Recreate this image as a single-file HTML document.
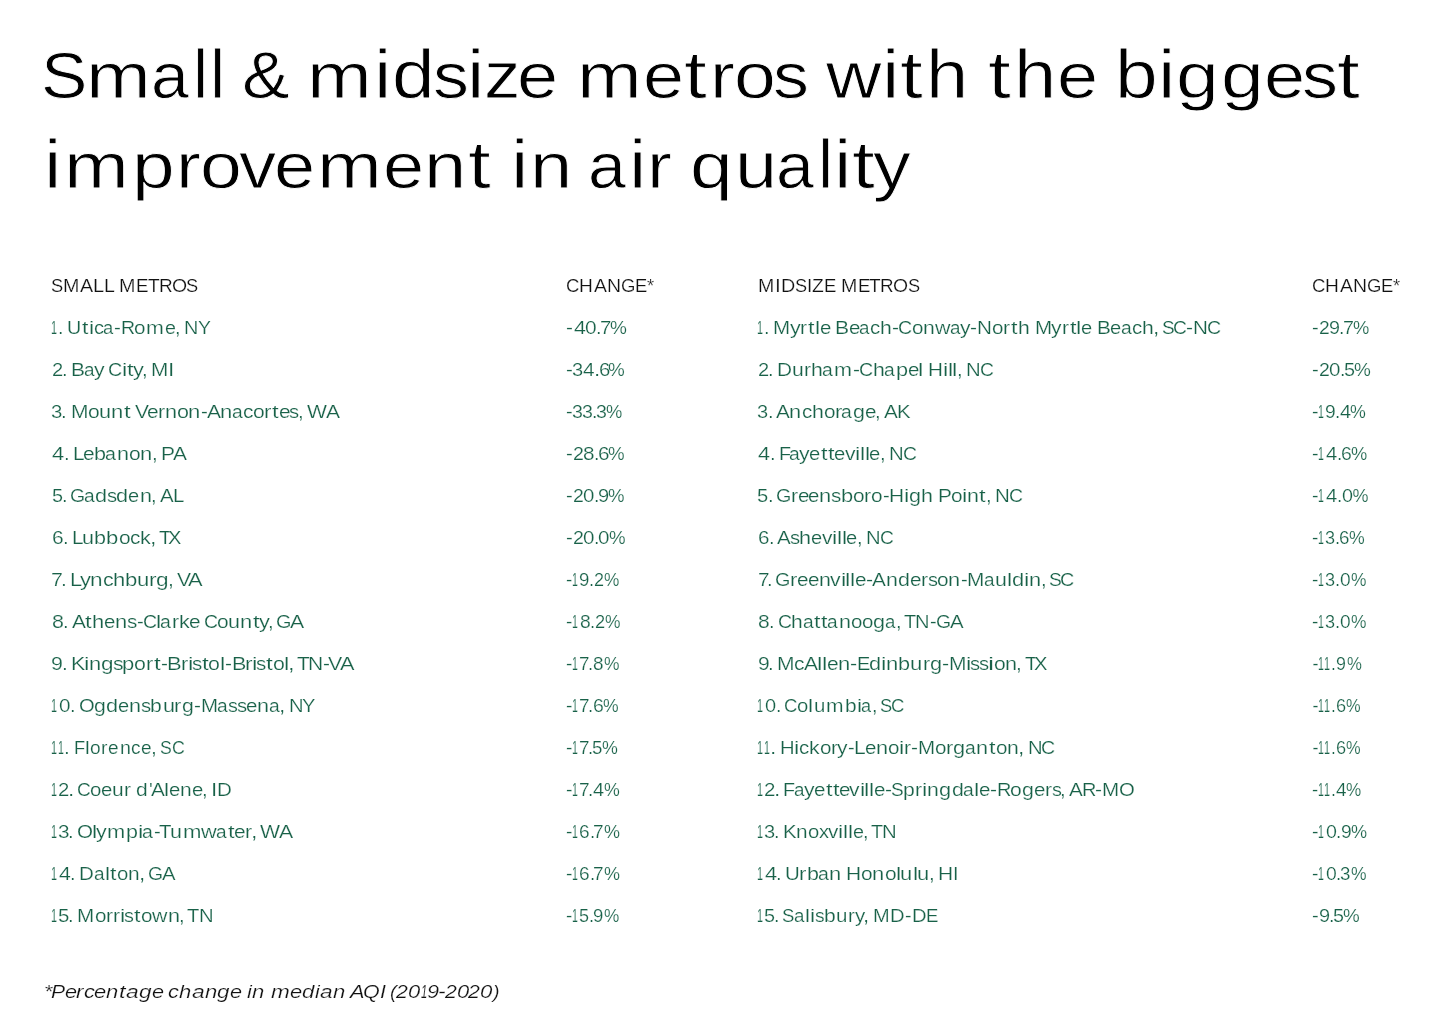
<!DOCTYPE html><html><head><meta charset="utf-8"><style>
html,body{margin:0;padding:0;background:#fff;width:1450px;height:1012px;overflow:hidden;position:relative}
body{font-family:"Liberation Sans", sans-serif;}
.a{position:absolute;left:0;white-space:pre;line-height:1;will-change:transform}
.a span{position:absolute;top:0;transform-origin:0 0}
.title{font-size:65px;color:#000;-webkit-text-stroke:0.8px #fff;}
.h{font-size:18px;color:#111;-webkit-text-stroke:0.2px #fff;}
.d{font-size:18px;color:#186148;-webkit-text-stroke:0.2px #fff;}
.f{font-size:19px;color:#111;-webkit-text-stroke:0.2px #fff;}
.f{font-style:italic}
</style></head><body>
<div class="a title" style="top:43px"><span style="left:40.63px;transform:scaleX(1.070)">S</span><span style="left:86.21px;transform:scaleX(1.196)">m</span><span style="left:150.82px;transform:scaleX(1.045)">a</span><span style="left:192.63px;transform-origin:0 55px;transform:scale(1.054,1.043)">l</span><span style="left:210.11px;transform-origin:0 55px;transform:scale(1.057,1.043)">l</span><span style="left:242.12px;transform-origin:0 55px;transform:scale(1.099,1.022)">&amp;</span><span style="left:306.96px;transform:scaleX(1.196)">m</span><span style="left:373.84px;transform-origin:0 55px;transform:scale(1.200,1.043)">i</span><span style="left:391.62px;transform-origin:0 55px;transform:scale(1.179,1.043)">d</span><span style="left:433.46px;transform:scaleX(1.105)">s</span><span style="left:467.33px;transform-origin:0 55px;transform:scale(1.200,1.043)">i</span><span style="left:483.90px;transform-origin:0 55px;transform:scale(1.124,1.029)">z</span><span style="left:517.12px;transform:scaleX(1.139)">e</span><span style="left:576.70px;transform:scaleX(1.196)">m</span><span style="left:642.63px;transform:scaleX(1.138)">e</span><span style="left:683.98px;transform-origin:0 55px;transform:scale(1.261,1.024)">t</span><span style="left:710.19px;transform:scaleX(1.148)">r</span><span style="left:734.30px;transform:scaleX(1.156)">o</span><span style="left:773.46px;transform:scaleX(1.105)">s</span><span style="left:825.53px;transform-origin:0 55px;transform:scale(1.182,1.029)">w</span><span style="left:881.84px;transform-origin:0 55px;transform:scale(1.200,1.043)">i</span><span style="left:899.98px;transform-origin:0 55px;transform:scale(1.261,1.024)">t</span><span style="left:926.43px;transform-origin:0 55px;transform:scale(1.168,1.043)">h</span><span style="left:987.74px;transform-origin:0 55px;transform:scale(1.263,1.024)">t</span><span style="left:1014.19px;transform-origin:0 55px;transform:scale(1.168,1.043)">h</span><span style="left:1056.63px;transform:scaleX(1.138)">e</span><span style="left:1115.40px;transform-origin:0 55px;transform:scale(1.181,1.043)">b</span><span style="left:1158.08px;transform-origin:0 55px;transform:scale(1.201,1.043)">i</span><span style="left:1176.00px;transform:scaleX(1.184)">g</span><span style="left:1220.76px;transform:scaleX(1.184)">g</span><span style="left:1264.12px;transform:scaleX(1.139)">e</span><span style="left:1302.22px;transform:scaleX(1.105)">s</span><span style="left:1337.22px;transform-origin:0 55px;transform:scale(1.260,1.024)">t</span></div>
<div class="a title" style="top:133px"><span style="left:43.83px;transform-origin:0 55px;transform:scale(1.202,1.043)">i</span><span style="left:63.93px;transform:scaleX(1.197)">m</span><span style="left:132.12px;transform:scaleX(1.181)">p</span><span style="left:175.92px;transform:scaleX(1.148)">r</span><span style="left:200.04px;transform:scaleX(1.157)">o</span><span style="left:239.26px;transform-origin:0 55px;transform:scale(1.144,1.029)">v</span><span style="left:274.10px;transform:scaleX(1.140)">e</span><span style="left:316.67px;transform:scaleX(1.197)">m</span><span style="left:382.86px;transform:scaleX(1.140)">e</span><span style="left:424.18px;transform:scaleX(1.169)">n</span><span style="left:468.20px;transform-origin:0 55px;transform:scale(1.261,1.024)">t</span><span style="left:510.83px;transform-origin:0 55px;transform:scale(1.202,1.043)">i</span><span style="left:529.69px;transform:scaleX(1.169)">n</span><span style="left:587.80px;transform:scaleX(1.046)">a</span><span style="left:628.59px;transform-origin:0 55px;transform:scale(1.200,1.043)">i</span><span style="left:647.18px;transform:scaleX(1.149)">r</span><span style="left:690.08px;transform:scaleX(1.180)">q</span><span style="left:734.98px;transform-origin:0 55px;transform:scale(1.166,1.029)">u</span><span style="left:775.55px;transform:scaleX(1.046)">a</span><span style="left:817.62px;transform-origin:0 55px;transform:scale(1.055,1.043)">l</span><span style="left:834.08px;transform-origin:0 55px;transform:scale(1.202,1.043)">i</span><span style="left:852.45px;transform-origin:0 55px;transform:scale(1.261,1.024)">t</span><span style="left:873.34px;transform-origin:0 55px;transform:scale(1.162,1.029)">y</span></div>
<div class="a h" style="top:277px"><span style="left:51.47px;transform:scaleX(1.017)">S</span><span style="left:63.39px;transform:scaleX(1.093)">M</span><span style="left:80.28px;transform:scaleX(1.095)">A</span><span style="left:93.44px;transform:scaleX(1.109)">L</span><span style="left:104.11px;transform:scaleX(1.085)">L</span><span style="left:119.48px;transform:scaleX(1.097)">M</span><span style="left:135.99px;transform:scaleX(1.038)">E</span><span style="left:147.98px;transform:scaleX(1.067)">T</span><span style="left:158.92px;transform:scaleX(1.054)">R</span><span style="left:171.86px;transform:scaleX(1.080)">O</span><span style="left:186.37px;transform:scaleX(1.014)">S</span></div>
<div class="a h" style="top:277px"><span style="left:565.75px;transform:scaleX(1.034)">C</span><span style="left:579.17px;transform:scaleX(1.063)">H</span><span style="left:593.54px;transform:scaleX(1.079)">A</span><span style="left:606.50px;transform:scaleX(1.081)">N</span><span style="left:620.70px;transform:scaleX(1.028)">G</span><span style="left:634.99px;transform:scaleX(1.020)">E</span><span style="left:646.95px;transform:scaleX(1.017)">*</span></div>
<div class="a h" style="top:277px"><span style="left:758.44px;transform:scaleX(1.086)">M</span><span style="left:775.08px;transform:scaleX(1.167)">I</span><span style="left:781.38px;transform:scaleX(1.097)">D</span><span style="left:795.27px;transform:scaleX(1.010)">S</span><span style="left:806.75px;transform:scaleX(1.045)">I</span><span style="left:812.13px;transform:scaleX(1.071)">Z</span><span style="left:823.83px;transform:scaleX(1.028)">E</span><span style="left:841.16px;transform:scaleX(1.088)">M</span><span style="left:857.83px;transform:scaleX(1.028)">E</span><span style="left:869.17px;transform:scaleX(1.058)">T</span><span style="left:880.08px;transform:scaleX(1.046)">R</span><span style="left:893.17px;transform:scaleX(1.076)">O</span><span style="left:907.60px;transform:scaleX(1.015)">S</span></div>
<div class="a h" style="top:277px"><span style="left:1311.75px;transform:scaleX(1.034)">C</span><span style="left:1325.17px;transform:scaleX(1.063)">H</span><span style="left:1339.54px;transform:scaleX(1.079)">A</span><span style="left:1352.50px;transform:scaleX(1.081)">N</span><span style="left:1366.70px;transform:scaleX(1.028)">G</span><span style="left:1380.99px;transform:scaleX(1.020)">E</span><span style="left:1392.95px;transform:scaleX(1.017)">*</span></div>
<div class="a d" style="top:319px"><span style="left:50.97px;transform:scaleX(0.596)">1</span><span style="left:57.77px;transform:scaleX(1.094)">.</span><span style="left:66.99px;transform:scaleX(1.094)">U</span><span style="left:81.70px;transform:scaleX(1.276)">t</span><span style="left:88.79px;transform:scaleX(1.300)">i</span><span style="left:93.71px;transform:scaleX(1.121)">c</span><span style="left:103.18px;transform:scaleX(1.021)">a</span><span style="left:114.13px;transform:scaleX(1.146)">-</span><span style="left:120.94px;transform:scaleX(1.084)">R</span><span style="left:134.26px;transform:scaleX(1.146)">o</span><span style="left:146.12px;transform:scaleX(1.188)">m</span><span style="left:164.56px;transform:scaleX(1.095)">e</span><span style="left:174.75px;transform:scaleX(1.099)">,</span><span style="left:184.04px;transform:scaleX(1.103)">N</span><span style="left:197.56px;transform:scaleX(1.079)">Y</span></div>
<div class="a d" style="top:319px"><span style="left:566.03px;transform:scaleX(1.158)">-</span><span style="left:573.51px;transform:scaleX(1.188)">4</span><span style="left:585.19px;transform:scaleX(1.164)">0</span><span style="left:595.84px;transform:scaleX(1.116)">.</span><span style="left:599.82px;transform:scaleX(1.137)">7</span><span style="left:609.95px;transform:scaleX(1.056)">%</span></div>
<div class="a d" style="top:319px"><span style="left:756.97px;transform:scaleX(0.596)">1</span><span style="left:763.71px;transform:scaleX(1.116)">.</span><span style="left:773.01px;transform:scaleX(1.141)">M</span><span style="left:789.63px;transform:scaleX(1.192)">y</span><span style="left:800.09px;transform:scaleX(1.160)">r</span><span style="left:807.74px;transform:scaleX(1.297)">t</span><span style="left:814.81px;transform:scaleX(1.284)">l</span><span style="left:819.73px;transform:scaleX(1.138)">e</span><span style="left:835.27px;transform:scaleX(1.174)">B</span><span style="left:848.73px;transform:scaleX(1.138)">e</span><span style="left:859.08px;transform:scaleX(1.042)">a</span><span style="left:869.86px;transform:scaleX(1.137)">c</span><span style="left:880.22px;transform:scaleX(1.176)">h</span><span style="left:892.06px;transform:scaleX(1.169)">-</span><span style="left:898.45px;transform:scaleX(1.091)">C</span><span style="left:911.78px;transform:scaleX(1.143)">o</span><span style="left:923.23px;transform:scaleX(1.176)">n</span><span style="left:934.97px;transform:scaleX(1.188)">w</span><span style="left:950.08px;transform:scaleX(1.042)">a</span><span style="left:960.27px;transform:scaleX(1.167)">y</span><span style="left:970.06px;transform:scaleX(1.169)">-</span><span style="left:977.08px;transform:scaleX(1.146)">N</span><span style="left:991.78px;transform:scaleX(1.143)">o</span><span style="left:1003.09px;transform:scaleX(1.160)">r</span><span style="left:1010.74px;transform:scaleX(1.297)">t</span><span style="left:1018.22px;transform:scaleX(1.176)">h</span><span style="left:1034.92px;transform:scaleX(1.141)">M</span><span style="left:1051.39px;transform:scaleX(1.169)">y</span><span style="left:1061.95px;transform:scaleX(1.159)">r</span><span style="left:1069.64px;transform:scaleX(1.301)">t</span><span style="left:1076.07px;transform:scaleX(1.321)">l</span><span style="left:1081.45px;transform:scaleX(1.117)">e</span><span style="left:1097.09px;transform:scaleX(1.153)">B</span><span style="left:1110.45px;transform:scaleX(1.117)">e</span><span style="left:1120.50px;transform:scaleX(1.069)">a</span><span style="left:1131.74px;transform:scaleX(1.139)">c</span><span style="left:1142.08px;transform:scaleX(1.175)">h</span><span style="left:1152.84px;transform:scaleX(1.258)">,</span><span style="left:1162.04px;transform:scaleX(1.057)">S</span><span style="left:1172.99px;transform:scaleX(1.071)">C</span><span style="left:1186.06px;transform:scaleX(1.169)">-</span><span style="left:1193.08px;transform:scaleX(1.146)">N</span><span style="left:1207.38px;transform:scaleX(1.091)">C</span></div>
<div class="a d" style="top:319px"><span style="left:1312.16px;transform:scaleX(1.118)">-</span><span style="left:1318.64px;transform:scaleX(1.068)">2</span><span style="left:1328.94px;transform:scaleX(1.099)">9</span><span style="left:1338.94px;transform:scaleX(1.077)">.</span><span style="left:1343.02px;transform:scaleX(1.097)">7</span><span style="left:1353.37px;transform:scaleX(1.019)">%</span></div>
<div class="a d" style="top:361px"><span style="left:51.52px;transform:scaleX(1.121)">2</span><span style="left:61.69px;transform:scaleX(1.125)">.</span><span style="left:71.03px;transform:scaleX(1.162)">B</span><span style="left:84.03px;transform:scaleX(1.050)">a</span><span style="left:94.23px;transform:scaleX(1.176)">y</span><span style="left:108.40px;transform:scaleX(1.099)">C</span><span style="left:121.86px;transform:scaleX(1.330)">i</span><span style="left:126.81px;transform:scaleX(1.306)">t</span><span style="left:132.64px;transform:scaleX(1.203)">y</span><span style="left:141.68px;transform:scaleX(1.130)">,</span><span style="left:151.02px;transform:scaleX(1.153)">M</span><span style="left:167.85px;transform:scaleX(1.261)">I</span></div>
<div class="a d" style="top:361px"><span style="left:566.07px;transform:scaleX(1.147)">-</span><span style="left:571.88px;transform:scaleX(1.116)">3</span><span style="left:583.27px;transform:scaleX(1.156)">4</span><span style="left:593.91px;transform:scaleX(1.237)">.</span><span style="left:598.69px;transform:scaleX(1.129)">6</span><span style="left:608.26px;transform:scaleX(1.047)">%</span></div>
<div class="a d" style="top:361px"><span style="left:757.54px;transform:scaleX(1.116)">2</span><span style="left:767.70px;transform:scaleX(1.120)">.</span><span style="left:777.07px;transform:scaleX(1.155)">D</span><span style="left:792.04px;transform:scaleX(1.176)">u</span><span style="left:804.08px;transform:scaleX(1.163)">r</span><span style="left:811.21px;transform:scaleX(1.180)">h</span><span style="left:822.48px;transform:scaleX(1.072)">a</span><span style="left:834.46px;transform:scaleX(1.199)">m</span><span style="left:853.01px;transform:scaleX(1.168)">-</span><span style="left:859.36px;transform:scaleX(1.094)">C</span><span style="left:873.07px;transform:scaleX(1.179)">h</span><span style="left:884.42px;transform:scaleX(1.068)">a</span><span style="left:895.58px;transform:scaleX(1.208)">p</span><span style="left:907.71px;transform:scaleX(1.141)">e</span><span style="left:918.07px;transform:scaleX(1.325)">l</span><span style="left:928.05px;transform:scaleX(1.149)">H</span><span style="left:942.73px;transform:scaleX(1.330)">i</span><span style="left:947.81px;transform:scaleX(1.288)">l</span><span style="left:952.07px;transform:scaleX(1.325)">l</span><span style="left:956.55px;transform:scaleX(1.127)">,</span><span style="left:965.87px;transform:scaleX(1.128)">N</span><span style="left:979.97px;transform:scaleX(1.075)">C</span></div>
<div class="a d" style="top:361px"><span style="left:1312.11px;transform:scaleX(1.134)">-</span><span style="left:1318.56px;transform:scaleX(1.083)">2</span><span style="left:1329.22px;transform:scaleX(1.140)">0</span><span style="left:1339.78px;transform:scaleX(1.087)">.</span><span style="left:1344.00px;transform:scaleX(1.102)">5</span><span style="left:1353.59px;transform:scaleX(1.052)">%</span></div>
<div class="a d" style="top:403px"><span style="left:51.27px;transform:scaleX(1.133)">3</span><span style="left:61.49px;transform:scaleX(1.148)">.</span><span style="left:70.72px;transform:scaleX(1.167)">M</span><span style="left:87.77px;transform:scaleX(1.170)">o</span><span style="left:99.19px;transform:scaleX(1.202)">u</span><span style="left:111.33px;transform:scaleX(1.228)">n</span><span style="left:123.67px;transform:scaleX(1.327)">t</span><span style="left:134.96px;transform:scaleX(1.166)">V</span><span style="left:146.71px;transform:scaleX(1.162)">e</span><span style="left:158.00px;transform:scaleX(1.186)">r</span><span style="left:165.10px;transform:scaleX(1.203)">n</span><span style="left:177.01px;transform:scaleX(1.196)">o</span><span style="left:188.38px;transform:scaleX(1.230)">n</span><span style="left:200.72px;transform:scaleX(1.146)">-</span><span style="left:206.88px;transform:scaleX(1.170)">A</span><span style="left:220.33px;transform:scaleX(1.228)">n</span><span style="left:231.95px;transform:scaleX(1.066)">a</span><span style="left:242.74px;transform:scaleX(1.164)">c</span><span style="left:252.77px;transform:scaleX(1.170)">o</span><span style="left:264.21px;transform:scaleX(1.233)">r</span><span style="left:271.76px;transform:scaleX(1.326)">t</span><span style="left:278.60px;transform:scaleX(1.164)">e</span><span style="left:289.30px;transform:scaleX(1.124)">s</span><span style="left:297.63px;transform:scaleX(1.147)">,</span><span style="left:307.07px;transform:scaleX(1.174)">W</span><span style="left:325.88px;transform:scaleX(1.170)">A</span></div>
<div class="a d" style="top:403px"><span style="left:566.16px;transform:scaleX(1.117)">-</span><span style="left:572.02px;transform:scaleX(1.087)">3</span><span style="left:582.02px;transform:scaleX(1.087)">3</span><span style="left:591.94px;transform:scaleX(1.077)">.</span><span style="left:596.09px;transform:scaleX(1.087)">3</span><span style="left:606.25px;transform:scaleX(1.019)">%</span></div>
<div class="a d" style="top:403px"><span style="left:757.36px;transform:scaleX(1.115)">3</span><span style="left:767.54px;transform:scaleX(1.130)">.</span><span style="left:776.23px;transform:scaleX(1.151)">A</span><span style="left:789.48px;transform:scaleX(1.210)">n</span><span style="left:801.71px;transform:scaleX(1.146)">c</span><span style="left:812.04px;transform:scaleX(1.183)">h</span><span style="left:823.87px;transform:scaleX(1.151)">o</span><span style="left:835.27px;transform:scaleX(1.214)">r</span><span style="left:841.32px;transform:scaleX(1.073)">a</span><span style="left:852.84px;transform:scaleX(1.188)">g</span><span style="left:864.69px;transform:scaleX(1.145)">e</span><span style="left:874.68px;transform:scaleX(1.129)">,</span><span style="left:883.99px;transform:scaleX(1.151)">A</span><span style="left:896.83px;transform:scaleX(1.131)">K</span></div>
<div class="a d" style="top:403px"><span style="left:1312.26px;transform:scaleX(1.084)">-</span><span style="left:1317.81px;transform:scaleX(0.584)">1</span><span style="left:1325.10px;transform:scaleX(1.067)">9</span><span style="left:1335.02px;transform:scaleX(1.045)">.</span><span style="left:1340.06px;transform:scaleX(1.113)">4</span><span style="left:1350.49px;transform:scaleX(0.989)">%</span></div>
<div class="a d" style="top:445px"><span style="left:52.37px;transform:scaleX(1.217)">4</span><span style="left:63.51px;transform:scaleX(1.144)">.</span><span style="left:72.74px;transform:scaleX(1.153)">L</span><span style="left:82.82px;transform:scaleX(1.161)">e</span><span style="left:94.29px;transform:scaleX(1.202)">b</span><span style="left:105.39px;transform:scaleX(1.089)">a</span><span style="left:117.12px;transform:scaleX(1.198)">n</span><span style="left:128.80px;transform:scaleX(1.166)">o</span><span style="left:140.41px;transform:scaleX(1.225)">n</span><span style="left:151.64px;transform:scaleX(1.143)">,</span><span style="left:160.93px;transform:scaleX(1.165)">P</span><span style="left:172.91px;transform:scaleX(1.165)">A</span></div>
<div class="a d" style="top:445px"><span style="left:566.09px;transform:scaleX(1.139)">-</span><span style="left:572.54px;transform:scaleX(1.088)">2</span><span style="left:583.22px;transform:scaleX(1.148)">8</span><span style="left:593.77px;transform:scaleX(1.092)">.</span><span style="left:598.23px;transform:scaleX(1.147)">6</span><span style="left:608.09px;transform:scaleX(1.039)">%</span></div>
<div class="a d" style="top:445px"><span style="left:758.45px;transform:scaleX(1.202)">4</span><span style="left:769.54px;transform:scaleX(1.129)">.</span><span style="left:778.60px;transform:scaleX(1.099)">F</span><span style="left:789.32px;transform:scaleX(1.072)">a</span><span style="left:799.36px;transform:scaleX(1.176)">y</span><span style="left:809.42px;transform:scaleX(1.124)">e</span><span style="left:820.72px;transform:scaleX(1.304)">t</span><span style="left:827.72px;transform:scaleX(1.304)">t</span><span style="left:834.42px;transform:scaleX(1.124)">e</span><span style="left:845.09px;transform:scaleX(1.170)">v</span><span style="left:854.87px;transform:scaleX(1.328)">i</span><span style="left:859.80px;transform:scaleX(1.292)">l</span><span style="left:864.80px;transform:scaleX(1.292)">l</span><span style="left:869.42px;transform:scaleX(1.124)">e</span><span style="left:879.68px;transform:scaleX(1.128)">,</span><span style="left:888.85px;transform:scaleX(1.131)">N</span><span style="left:902.95px;transform:scaleX(1.078)">C</span></div>
<div class="a d" style="top:445px"><span style="left:1312.22px;transform:scaleX(1.095)">-</span><span style="left:1317.81px;transform:scaleX(0.584)">1</span><span style="left:1325.84px;transform:scaleX(1.123)">4</span><span style="left:1336.73px;transform:scaleX(1.055)">.</span><span style="left:1341.19px;transform:scaleX(1.078)">6</span><span style="left:1350.88px;transform:scaleX(1.016)">%</span></div>
<div class="a d" style="top:487px"><span style="left:51.55px;transform:scaleX(1.102)">5</span><span style="left:61.57px;transform:scaleX(1.118)">.</span><span style="left:70.27px;transform:scaleX(1.080)">G</span><span style="left:84.38px;transform:scaleX(1.061)">a</span><span style="left:95.41px;transform:scaleX(1.199)">d</span><span style="left:106.92px;transform:scaleX(1.124)">s</span><span style="left:116.41px;transform:scaleX(1.199)">d</span><span style="left:128.48px;transform:scaleX(1.113)">e</span><span style="left:139.55px;transform:scaleX(1.197)">n</span><span style="left:150.71px;transform:scaleX(1.117)">,</span><span style="left:160.07px;transform:scaleX(1.138)">A</span><span style="left:172.99px;transform:scaleX(1.129)">L</span></div>
<div class="a d" style="top:487px"><span style="left:566.12px;transform:scaleX(1.130)">-</span><span style="left:572.58px;transform:scaleX(1.080)">2</span><span style="left:583.24px;transform:scaleX(1.136)">0</span><span style="left:593.79px;transform:scaleX(1.083)">.</span><span style="left:598.10px;transform:scaleX(1.116)">9</span><span style="left:608.39px;transform:scaleX(1.032)">%</span></div>
<div class="a d" style="top:487px"><span style="left:757.46px;transform:scaleX(1.120)">5</span><span style="left:767.53px;transform:scaleX(1.136)">.</span><span style="left:776.15px;transform:scaleX(1.098)">G</span><span style="left:790.91px;transform:scaleX(1.173)">r</span><span style="left:797.66px;transform:scaleX(1.151)">e</span><span style="left:808.39px;transform:scaleX(1.131)">e</span><span style="left:819.45px;transform:scaleX(1.217)">n</span><span style="left:830.84px;transform:scaleX(1.143)">s</span><span style="left:840.53px;transform:scaleX(1.219)">b</span><span style="left:852.56px;transform:scaleX(1.158)">o</span><span style="left:864.04px;transform:scaleX(1.173)">r</span><span style="left:870.84px;transform:scaleX(1.157)">o</span><span style="left:882.63px;transform:scaleX(1.132)">-</span><span style="left:888.99px;transform:scaleX(1.160)">H</span><span style="left:903.85px;transform:scaleX(1.336)">i</span><span style="left:908.96px;transform:scaleX(1.194)">g</span><span style="left:921.16px;transform:scaleX(1.190)">h</span><span style="left:937.92px;transform:scaleX(1.154)">P</span><span style="left:950.71px;transform:scaleX(1.157)">o</span><span style="left:961.85px;transform:scaleX(1.336)">i</span><span style="left:967.02px;transform:scaleX(1.189)">n</span><span style="left:978.86px;transform:scaleX(1.318)">t</span><span style="left:985.66px;transform:scaleX(1.135)">,</span><span style="left:994.80px;transform:scaleX(1.138)">N</span><span style="left:1009.05px;transform:scaleX(1.083)">C</span></div>
<div class="a d" style="top:487px"><span style="left:1312.23px;transform:scaleX(1.093)">-</span><span style="left:1317.81px;transform:scaleX(0.584)">1</span><span style="left:1325.84px;transform:scaleX(1.122)">4</span><span style="left:1336.73px;transform:scaleX(1.054)">.</span><span style="left:1341.52px;transform:scaleX(1.099)">0</span><span style="left:1352.55px">%</span></div>
<div class="a d" style="top:529px"><span style="left:51.74px;transform:scaleX(1.166)">6</span><span style="left:62.51px;transform:scaleX(1.142)">.</span><span style="left:71.75px;transform:scaleX(1.151)">L</span><span style="left:82.22px;transform:scaleX(1.195)">u</span><span style="left:94.30px;transform:scaleX(1.200)">b</span><span style="left:106.49px;transform:scaleX(1.226)">b</span><span style="left:118.68px;transform:scaleX(1.163)">o</span><span style="left:129.77px;transform:scaleX(1.157)">c</span><span style="left:140.13px;transform:scaleX(1.195)">k</span><span style="left:149.78px;transform:scaleX(1.280)">,</span><span style="left:158.66px;transform:scaleX(1.134)">T</span><span style="left:168.43px;transform:scaleX(1.115)">X</span></div>
<div class="a d" style="top:529px"><span style="left:566.09px;transform:scaleX(1.138)">-</span><span style="left:572.54px;transform:scaleX(1.087)">2</span><span style="left:583.20px;transform:scaleX(1.145)">0</span><span style="left:593.77px;transform:scaleX(1.091)">.</span><span style="left:598.38px;transform:scaleX(1.146)">0</span><span style="left:609.22px;transform:scaleX(1.038)">%</span></div>
<div class="a d" style="top:529px"><span style="left:757.85px;transform:scaleX(1.144)">6</span><span style="left:768.56px;transform:scaleX(1.120)">.</span><span style="left:777.29px;transform:scaleX(1.141)">A</span><span style="left:789.91px;transform:scaleX(1.127)">s</span><span style="left:799.48px;transform:scaleX(1.199)">h</span><span style="left:811.46px;transform:scaleX(1.115)">e</span><span style="left:822.14px;transform:scaleX(1.161)">v</span><span style="left:831.89px;transform:scaleX(1.317)">i</span><span style="left:836.82px;transform:scaleX(1.282)">l</span><span style="left:841.82px;transform:scaleX(1.282)">l</span><span style="left:846.46px;transform:scaleX(1.115)">e</span><span style="left:856.70px;transform:scaleX(1.119)">,</span><span style="left:865.90px;transform:scaleX(1.123)">N</span><span style="left:880.00px;transform:scaleX(1.069)">C</span></div>
<div class="a d" style="top:529px"><span style="left:1312.33px;transform:scaleX(1.059)">-</span><span style="left:1317.81px;transform:scaleX(0.584)">1</span><span style="left:1324.90px;transform:scaleX(1.008)">3</span><span style="left:1334.81px;transform:scaleX(1.021)">.</span><span style="left:1339.26px;transform:scaleX(1.041)">6</span><span style="left:1349.14px;transform:scaleX(0.983)">%</span></div>
<div class="a d" style="top:571px"><span style="left:51.43px;transform:scaleX(1.194)">7</span><span style="left:60.71px;transform:scaleX(1.172)">.</span><span style="left:69.87px;transform:scaleX(1.214)">L</span><span style="left:80.04px;transform:scaleX(1.218)">y</span><span style="left:90.26px;transform:scaleX(1.255)">n</span><span style="left:102.51px;transform:scaleX(1.189)">c</span><span style="left:112.82px;transform:scaleX(1.227)">h</span><span style="left:125.02px;transform:scaleX(1.230)">b</span><span style="left:137.06px;transform:scaleX(1.227)">u</span><span style="left:149.12px;transform:scaleX(1.259)">r</span><span style="left:156.14px;transform:scaleX(1.257)">g</span><span style="left:167.57px;transform:scaleX(1.171)">,</span><span style="left:176.53px;transform:scaleX(1.174)">V</span><span style="left:188.22px;transform:scaleX(1.215)">A</span></div>
<div class="a d" style="top:571px"><span style="left:566.36px;transform:scaleX(1.051)">-</span><span style="left:571.81px;transform:scaleX(0.584)">1</span><span style="left:579.27px;transform:scaleX(1.034)">9</span><span style="left:589.10px;transform:scaleX(1.013)">.</span><span style="left:593.96px">2</span><span style="left:603.96px;transform:scaleX(0.959)">%</span></div>
<div class="a d" style="top:571px"><span style="left:757.63px;transform:scaleX(1.155)">7</span><span style="left:766.80px;transform:scaleX(1.133)">.</span><span style="left:775.36px;transform:scaleX(1.100)">G</span><span style="left:790.26px;transform:scaleX(1.217)">r</span><span style="left:796.88px;transform:scaleX(1.150)">e</span><span style="left:807.79px;transform:scaleX(1.147)">e</span><span style="left:819.18px;transform:scaleX(1.187)">n</span><span style="left:830.41px;transform:scaleX(1.177)">v</span><span style="left:840.71px;transform:scaleX(1.339)">i</span><span style="left:845.05px;transform:scaleX(1.333)">l</span><span style="left:850.03px;transform:scaleX(1.293)">l</span><span style="left:854.88px;transform:scaleX(1.150)">e</span><span style="left:866.03px;transform:scaleX(1.180)">-</span><span style="left:872.21px;transform:scaleX(1.154)">A</span><span style="left:886.03px;transform:scaleX(1.186)">n</span><span style="left:898.09px;transform:scaleX(1.189)">d</span><span style="left:909.88px;transform:scaleX(1.150)">e</span><span style="left:921.05px;transform:scaleX(1.171)">r</span><span style="left:927.62px;transform:scaleX(1.110)">s</span><span style="left:936.85px;transform:scaleX(1.155)">o</span><span style="left:948.42px;transform:scaleX(1.212)">n</span><span style="left:960.63px;transform:scaleX(1.130)">-</span><span style="left:967.00px;transform:scaleX(1.155)">M</span><span style="left:984.02px;transform:scaleX(1.052)">a</span><span style="left:995.27px;transform:scaleX(1.186)">u</span><span style="left:1007.03px;transform:scaleX(1.293)">l</span><span style="left:1012.33px;transform:scaleX(1.215)">d</span><span style="left:1023.96px;transform:scaleX(1.347)">i</span><span style="left:1029.42px;transform:scaleX(1.212)">n</span><span style="left:1040.67px;transform:scaleX(1.132)">,</span><span style="left:1049.17px;transform:scaleX(1.067)">S</span><span style="left:1060.31px;transform:scaleX(1.101)">C</span></div>
<div class="a d" style="top:571px"><span style="left:1312.33px;transform:scaleX(1.059)">-</span><span style="left:1317.81px;transform:scaleX(0.584)">1</span><span style="left:1324.90px;transform:scaleX(1.008)">3</span><span style="left:1334.81px;transform:scaleX(1.021)">.</span><span style="left:1339.60px;transform:scaleX(1.065)">0</span><span style="left:1350.67px;transform:scaleX(0.967)">%</span></div>
<div class="a d" style="top:613px"><span style="left:52.00px;transform:scaleX(1.191)">8</span><span style="left:62.79px;transform:scaleX(1.140)">.</span><span style="left:71.93px;transform:scaleX(1.161)">A</span><span style="left:84.84px;transform:scaleX(1.322)">t</span><span style="left:92.37px;transform:scaleX(1.219)">h</span><span style="left:104.37px;transform:scaleX(1.135)">e</span><span style="left:115.43px;transform:scaleX(1.221)">n</span><span style="left:126.82px;transform:scaleX(1.147)">s</span><span style="left:136.61px;transform:scaleX(1.136)">-</span><span style="left:142.88px;transform:scaleX(1.088)">C</span><span style="left:156.02px;transform:scaleX(1.300)">l</span><span style="left:160.36px;transform:scaleX(1.081)">a</span><span style="left:171.89px;transform:scaleX(1.177)">r</span><span style="left:179.01px;transform:scaleX(1.194)">k</span><span style="left:188.76px;transform:scaleX(1.154)">e</span><span style="left:204.02px;transform:scaleX(1.087)">C</span><span style="left:216.82px;transform:scaleX(1.162)">o</span><span style="left:228.23px;transform:scaleX(1.193)">u</span><span style="left:240.43px;transform:scaleX(1.221)">n</span><span style="left:252.78px;transform:scaleX(1.316)">t</span><span style="left:258.55px;transform:scaleX(1.210)">y</span><span style="left:267.65px;transform:scaleX(1.139)">,</span><span style="left:276.22px;transform:scaleX(1.103)">G</span><span style="left:290.42px;transform:scaleX(1.182)">A</span></div>
<div class="a d" style="top:613px"><span style="left:566.32px;transform:scaleX(1.062)">-</span><span style="left:571.81px;transform:scaleX(0.584)">1</span><span style="left:579.60px;transform:scaleX(1.070)">8</span><span style="left:590.08px;transform:scaleX(1.024)">.</span><span style="left:594.91px;transform:scaleX(1.015)">2</span><span style="left:604.88px;transform:scaleX(0.970)">%</span></div>
<div class="a d" style="top:613px"><span style="left:758.12px;transform:scaleX(1.166)">8</span><span style="left:768.85px;transform:scaleX(1.116)">.</span><span style="left:777.50px;transform:scaleX(1.084)">C</span><span style="left:791.26px;transform:scaleX(1.169)">h</span><span style="left:802.53px;transform:scaleX(1.062)">a</span><span style="left:813.85px;transform:scaleX(1.288)">t</span><span style="left:820.85px;transform:scaleX(1.288)">t</span><span style="left:827.39px;transform:scaleX(1.059)">a</span><span style="left:838.56px;transform:scaleX(1.195)">n</span><span style="left:850.66px;transform:scaleX(1.138)">o</span><span style="left:861.94px;transform:scaleX(1.137)">o</span><span style="left:873.43px;transform:scaleX(1.197)">g</span><span style="left:885.11px;transform:scaleX(1.035)">a</span><span style="left:895.57px;transform:scaleX(1.117)">,</span><span style="left:903.91px;transform:scaleX(1.106)">T</span><span style="left:914.93px;transform:scaleX(1.118)">N</span><span style="left:929.82px;transform:scaleX(1.113)">-</span><span style="left:936.28px;transform:scaleX(1.078)">G</span><span style="left:950.32px;transform:scaleX(1.137)">A</span></div>
<div class="a d" style="top:613px"><span style="left:1312.33px;transform:scaleX(1.059)">-</span><span style="left:1317.81px;transform:scaleX(0.584)">1</span><span style="left:1324.90px;transform:scaleX(1.008)">3</span><span style="left:1334.81px;transform:scaleX(1.021)">.</span><span style="left:1339.60px;transform:scaleX(1.065)">0</span><span style="left:1350.67px;transform:scaleX(0.967)">%</span></div>
<div class="a d" style="top:655px"><span style="left:51.49px;transform:scaleX(1.189)">9</span><span style="left:61.72px;transform:scaleX(1.165)">.</span><span style="left:70.82px;transform:scaleX(1.193)">K</span><span style="left:83.88px;transform:scaleX(1.385)">i</span><span style="left:89.01px;transform:scaleX(1.220)">n</span><span style="left:101.18px;transform:scaleX(1.250)">g</span><span style="left:112.71px;transform:scaleX(1.172)">s</span><span style="left:122.17px;transform:scaleX(1.225)">p</span><span style="left:134.41px;transform:scaleX(1.188)">o</span><span style="left:145.80px;transform:scaleX(1.203)">r</span><span style="left:153.52px;transform:scaleX(1.351)">t</span><span style="left:160.54px;transform:scaleX(1.161)">-</span><span style="left:167.00px;transform:scaleX(1.219)">B</span><span style="left:180.94px;transform:scaleX(1.204)">r</span><span style="left:187.79px;transform:scaleX(1.370)">i</span><span style="left:192.23px;transform:scaleX(1.140)">s</span><span style="left:201.71px;transform:scaleX(1.345)">t</span><span style="left:208.41px;transform:scaleX(1.188)">o</span><span style="left:219.86px;transform:scaleX(1.318)">l</span><span style="left:224.67px;transform:scaleX(1.163)">-</span><span style="left:231.71px;transform:scaleX(1.194)">B</span><span style="left:245.14px;transform:scaleX(1.251)">r</span><span style="left:251.88px;transform:scaleX(1.385)">i</span><span style="left:256.48px;transform:scaleX(1.141)">s</span><span style="left:265.77px;transform:scaleX(1.352)">t</span><span style="left:272.69px;transform:scaleX(1.187)">o</span><span style="left:283.96px;transform:scaleX(1.329)">l</span><span style="left:287.72px;transform:scaleX(1.306)">,</span><span style="left:296.54px;transform:scaleX(1.157)">T</span><span style="left:307.61px;transform:scaleX(1.167)">N</span><span style="left:322.54px;transform:scaleX(1.161)">-</span><span style="left:328.03px;transform:scaleX(1.186)">V</span><span style="left:340.27px;transform:scaleX(1.208)">A</span></div>
<div class="a d" style="top:655px"><span style="left:566.32px;transform:scaleX(1.063)">-</span><span style="left:571.81px;transform:scaleX(0.584)">1</span><span style="left:579.18px;transform:scaleX(1.045)">7</span><span style="left:588.07px;transform:scaleX(1.025)">.</span><span style="left:593.29px;transform:scaleX(1.050)">8</span><span style="left:603.77px;transform:scaleX(0.970)">%</span></div>
<div class="a d" style="top:655px"><span style="left:757.58px;transform:scaleX(1.171)">9</span><span style="left:767.77px;transform:scaleX(1.148)">.</span><span style="left:776.89px;transform:scaleX(1.170)">M</span><span style="left:794.49px;transform:scaleX(1.169)">c</span><span style="left:804.12px;transform:scaleX(1.169)">A</span><span style="left:817.01px;transform:scaleX(1.350)">l</span><span style="left:822.01px;transform:scaleX(1.350)">l</span><span style="left:826.80px;transform:scaleX(1.165)">e</span><span style="left:838.34px;transform:scaleX(1.227)">n</span><span style="left:849.98px;transform:scaleX(1.196)">-</span><span style="left:856.51px;transform:scaleX(1.107)">E</span><span style="left:869.01px;transform:scaleX(1.204)">d</span><span style="left:880.93px;transform:scaleX(1.365)">i</span><span style="left:886.34px;transform:scaleX(1.227)">n</span><span style="left:898.27px;transform:scaleX(1.206)">b</span><span style="left:910.39px;transform:scaleX(1.228)">u</span><span style="left:922.86px;transform:scaleX(1.185)">r</span><span style="left:929.90px;transform:scaleX(1.207)">g</span><span style="left:941.94px;transform:scaleX(1.190)">-</span><span style="left:948.82px;transform:scaleX(1.167)">M</span><span style="left:965.83px;transform:scaleX(1.350)">i</span><span style="left:970.44px;transform:scaleX(1.122)">s</span><span style="left:979.30px;transform:scaleX(1.123)">s</span><span style="left:987.96px;transform:scaleX(1.527)">i</span><span style="left:993.50px;transform:scaleX(1.171)">o</span><span style="left:1004.96px;transform:scaleX(1.201)">n</span><span style="left:1015.75px;transform:scaleX(1.157)">,</span><span style="left:1024.63px;transform:scaleX(1.140)">T</span><span style="left:1034.40px;transform:scaleX(1.121)">X</span></div>
<div class="a d" style="top:655px"><span style="left:1312.50px">-</span><span style="left:1317.81px;transform:scaleX(0.584)">1</span><span style="left:1323.97px;transform:scaleX(0.596)">1</span><span style="left:1331.10px;transform:scaleX(0.963)">.</span><span style="left:1335.72px;transform:scaleX(0.991)">9</span><span style="left:1346.55px;transform:scaleX(0.932)">%</span></div>
<div class="a d" style="top:697px"><span style="left:50.97px;transform:scaleX(0.596)">1</span><span style="left:58.79px;transform:scaleX(1.149)">0</span><span style="left:69.56px;transform:scaleX(1.120)">.</span><span style="left:78.61px;transform:scaleX(1.122)">O</span><span style="left:94.17px;transform:scaleX(1.179)">g</span><span style="left:106.40px;transform:scaleX(1.201)">d</span><span style="left:118.46px;transform:scaleX(1.115)">e</span><span style="left:129.48px;transform:scaleX(1.198)">n</span><span style="left:140.91px;transform:scaleX(1.127)">s</span><span style="left:150.42px;transform:scaleX(1.178)">b</span><span style="left:162.54px;transform:scaleX(1.198)">u</span><span style="left:174.35px;transform:scaleX(1.207)">r</span><span style="left:181.89px;transform:scaleX(1.178)">g</span><span style="left:194.02px;transform:scaleX(1.162)">-</span><span style="left:200.94px;transform:scaleX(1.139)">M</span><span style="left:217.45px;transform:scaleX(1.063)">a</span><span style="left:228.42px;transform:scaleX(1.096)">s</span><span style="left:236.91px;transform:scaleX(1.127)">s</span><span style="left:245.94px;transform:scaleX(1.137)">e</span><span style="left:257.48px;transform:scaleX(1.198)">n</span><span style="left:268.51px;transform:scaleX(1.067)">a</span><span style="left:278.84px;transform:scaleX(1.256)">,</span><span style="left:288.65px;transform:scaleX(1.121)">N</span><span style="left:301.80px;transform:scaleX(1.119)">Y</span></div>
<div class="a d" style="top:697px"><span style="left:566.29px;transform:scaleX(1.072)">-</span><span style="left:571.81px;transform:scaleX(0.584)">1</span><span style="left:579.13px;transform:scaleX(1.054)">7</span><span style="left:588.05px;transform:scaleX(1.034)">.</span><span style="left:592.57px;transform:scaleX(1.080)">6</span><span style="left:602.70px;transform:scaleX(0.978)">%</span></div>
<div class="a d" style="top:697px"><span style="left:756.97px;transform:scaleX(0.596)">1</span><span style="left:764.98px;transform:scaleX(1.111)">0</span><span style="left:775.66px;transform:scaleX(1.083)">.</span><span style="left:784.38px;transform:scaleX(1.033)">C</span><span style="left:797.35px;transform:scaleX(1.128)">o</span><span style="left:808.17px;transform:scaleX(1.274)">l</span><span style="left:813.53px;transform:scaleX(1.134)">u</span><span style="left:826.26px;transform:scaleX(1.169)">m</span><span style="left:844.83px;transform:scaleX(1.163)">b</span><span style="left:856.83px;transform:scaleX(1.280)">i</span><span style="left:861.27px;transform:scaleX(1.005)">a</span><span style="left:871.65px;transform:scaleX(1.084)">,</span><span style="left:880.36px;transform:scaleX(1.018)">S</span><span style="left:891.38px;transform:scaleX(1.033)">C</span></div>
<div class="a d" style="top:697px"><span style="left:1312.50px">-</span><span style="left:1317.81px;transform:scaleX(0.584)">1</span><span style="left:1323.97px;transform:scaleX(0.596)">1</span><span style="left:1331.10px;transform:scaleX(0.961)">.</span><span style="left:1335.92px;transform:scaleX(1.010)">6</span><span style="left:1346.09px;transform:scaleX(0.914)">%</span></div>
<div class="a d" style="top:739px"><span style="left:50.97px;transform:scaleX(0.596)">1</span><span style="left:57.81px;transform:scaleX(0.584)">1</span><span style="left:64.08px;transform:scaleX(1.167)">.</span><span style="left:73.95px;transform:scaleX(1.015)">F</span><span style="left:85.14px;transform:scaleX(1.180)">l</span><span style="left:90.18px;transform:scaleX(1.063)">o</span><span style="left:101.38px;transform:scaleX(1.078)">r</span><span style="left:108.24px;transform:scaleX(1.056)">e</span><span style="left:119.65px;transform:scaleX(1.093)">n</span><span style="left:131.31px;transform:scaleX(1.060)">c</span><span style="left:141.33px;transform:scaleX(1.059)">e</span><span style="left:151.06px;transform:scaleX(1.169)">,</span><span style="left:160.49px;transform:scaleX(0.982)">S</span><span style="left:171.62px;transform:scaleX(0.995)">C</span></div>
<div class="a d" style="top:739px"><span style="left:566.30px;transform:scaleX(1.068)">-</span><span style="left:571.81px;transform:scaleX(0.584)">1</span><span style="left:579.16px;transform:scaleX(1.049)">7</span><span style="left:588.06px;transform:scaleX(1.029)">.</span><span style="left:592.32px;transform:scaleX(1.039)">5</span><span style="left:602.08px;transform:scaleX(0.991)">%</span></div>
<div class="a d" style="top:739px"><span style="left:756.97px;transform:scaleX(0.596)">1</span><span style="left:763.81px;transform:scaleX(0.584)">1</span><span style="left:769.86px;transform:scaleX(1.258)">.</span><span style="left:779.63px;transform:scaleX(1.124)">H</span><span style="left:793.98px;transform:scaleX(1.336)">i</span><span style="left:798.85px;transform:scaleX(1.139)">c</span><span style="left:809.23px;transform:scaleX(1.176)">k</span><span style="left:819.62px;transform:scaleX(1.146)">o</span><span style="left:830.95px;transform:scaleX(1.161)">r</span><span style="left:837.27px;transform:scaleX(1.168)">y</span><span style="left:847.66px;transform:scaleX(1.120)">-</span><span style="left:854.15px;transform:scaleX(1.164)">L</span><span style="left:864.72px;transform:scaleX(1.139)">e</span><span style="left:875.51px;transform:scaleX(1.204)">n</span><span style="left:887.77px;transform:scaleX(1.145)">o</span><span style="left:898.88px;transform:scaleX(1.321)">i</span><span style="left:904.09px;transform:scaleX(1.161)">r</span><span style="left:911.01px;transform:scaleX(1.165)">-</span><span style="left:917.91px;transform:scaleX(1.142)">M</span><span style="left:934.90px;transform:scaleX(1.145)">o</span><span style="left:946.30px;transform:scaleX(1.207)">r</span><span style="left:953.39px;transform:scaleX(1.206)">g</span><span style="left:965.35px;transform:scaleX(1.067)">a</span><span style="left:976.47px;transform:scaleX(1.202)">n</span><span style="left:988.74px;transform:scaleX(1.298)">t</span><span style="left:995.62px;transform:scaleX(1.146)">o</span><span style="left:1007.08px;transform:scaleX(1.176)">n</span><span style="left:1017.83px;transform:scaleX(1.260)">,</span><span style="left:1027.63px;transform:scaleX(1.124)">N</span><span style="left:1041.37px;transform:scaleX(1.092)">C</span></div>
<div class="a d" style="top:739px"><span style="left:1312.50px">-</span><span style="left:1317.81px;transform:scaleX(0.584)">1</span><span style="left:1323.97px;transform:scaleX(0.596)">1</span><span style="left:1331.10px;transform:scaleX(0.961)">.</span><span style="left:1335.92px;transform:scaleX(1.010)">6</span><span style="left:1346.09px;transform:scaleX(0.914)">%</span></div>
<div class="a d" style="top:781px"><span style="left:50.97px;transform:scaleX(0.596)">1</span><span style="left:57.91px;transform:scaleX(1.129)">2</span><span style="left:67.88px;transform:scaleX(1.248)">.</span><span style="left:77.04px;transform:scaleX(1.064)">C</span><span style="left:89.82px;transform:scaleX(1.136)">o</span><span style="left:100.88px;transform:scaleX(1.128)">e</span><span style="left:112.25px;transform:scaleX(1.164)">u</span><span style="left:124.12px;transform:scaleX(1.152)">r</span><span style="left:136.18px;transform:scaleX(1.170)">d</span><span style="left:148.59px;transform:scaleX(1.085)">&#x27;</span><span style="left:150.58px;transform:scaleX(1.156)">A</span><span style="left:163.98px;transform:scaleX(1.261)">l</span><span style="left:168.77px;transform:scaleX(1.130)">e</span><span style="left:180.13px;transform:scaleX(1.167)">n</span><span style="left:191.88px;transform:scaleX(1.128)">e</span><span style="left:201.83px;transform:scaleX(1.124)">,</span><span style="left:210.90px;transform:scaleX(1.243)">I</span><span style="left:217.06px;transform:scaleX(1.144)">D</span></div>
<div class="a d" style="top:781px"><span style="left:566.26px;transform:scaleX(1.083)">-</span><span style="left:571.81px;transform:scaleX(0.584)">1</span><span style="left:579.08px;transform:scaleX(1.064)">7</span><span style="left:588.03px;transform:scaleX(1.044)">.</span><span style="left:593.00px;transform:scaleX(1.109)">4</span><span style="left:603.50px;transform:scaleX(0.988)">%</span></div>
<div class="a d" style="top:781px"><span style="left:756.97px;transform:scaleX(0.596)">1</span><span style="left:763.86px;transform:scaleX(1.140)">2</span><span style="left:773.85px;transform:scaleX(1.260)">.</span><span style="left:783.47px;transform:scaleX(1.096)">F</span><span style="left:794.06px;transform:scaleX(1.045)">a</span><span style="left:804.26px;transform:scaleX(1.170)">y</span><span style="left:813.92px;transform:scaleX(1.142)">e</span><span style="left:825.63px;transform:scaleX(1.305)">t</span><span style="left:832.63px;transform:scaleX(1.305)">t</span><span style="left:838.92px;transform:scaleX(1.142)">e</span><span style="left:849.34px;transform:scaleX(1.165)">v</span><span style="left:859.73px;transform:scaleX(1.330)">i</span><span style="left:864.07px;transform:scaleX(1.324)">l</span><span style="left:869.05px;transform:scaleX(1.284)">l</span><span style="left:873.92px;transform:scaleX(1.142)">e</span><span style="left:885.05px;transform:scaleX(1.172)">-</span><span style="left:891.12px;transform:scaleX(1.058)">S</span><span style="left:903.14px;transform:scaleX(1.181)">p</span><span style="left:915.08px;transform:scaleX(1.163)">r</span><span style="left:921.98px;transform:scaleX(1.338)">i</span><span style="left:927.22px;transform:scaleX(1.179)">n</span><span style="left:939.38px;transform:scaleX(1.208)">g</span><span style="left:951.85px;transform:scaleX(1.182)">d</span><span style="left:963.34px;transform:scaleX(1.069)">a</span><span style="left:974.07px;transform:scaleX(1.324)">l</span><span style="left:978.92px;transform:scaleX(1.142)">e</span><span style="left:990.05px;transform:scaleX(1.172)">-</span><span style="left:996.78px;transform:scaleX(1.108)">R</span><span style="left:1010.13px;transform:scaleX(1.172)">o</span><span style="left:1021.86px;transform:scaleX(1.184)">g</span><span style="left:1033.71px;transform:scaleX(1.141)">e</span><span style="left:1044.94px;transform:scaleX(1.162)">r</span><span style="left:1051.54px;transform:scaleX(1.100)">s</span><span style="left:1059.80px;transform:scaleX(1.135)">,</span><span style="left:1069.02px;transform:scaleX(1.146)">A</span><span style="left:1081.78px;transform:scaleX(1.108)">R</span><span style="left:1095.05px;transform:scaleX(1.172)">-</span><span style="left:1101.99px;transform:scaleX(1.144)">M</span><span style="left:1118.76px;transform:scaleX(1.130)">O</span></div>
<div class="a d" style="top:781px"><span style="left:1312.43px;transform:scaleX(1.025)">-</span><span style="left:1317.81px;transform:scaleX(0.584)">1</span><span style="left:1323.97px;transform:scaleX(0.596)">1</span><span style="left:1331.05px;transform:scaleX(0.983)">.</span><span style="left:1336.29px;transform:scaleX(1.050)">4</span><span style="left:1346.40px;transform:scaleX(0.951)">%</span></div>
<div class="a d" style="top:823px"><span style="left:50.97px;transform:scaleX(0.596)">1</span><span style="left:57.70px;transform:scaleX(1.151)">3</span><span style="left:67.78px;transform:scaleX(1.140)">.</span><span style="left:76.65px;transform:scaleX(1.145)">O</span><span style="left:92.01px;transform:scaleX(1.301)">l</span><span style="left:96.30px;transform:scaleX(1.187)">y</span><span style="left:107.34px;transform:scaleX(1.215)">m</span><span style="left:126.19px;transform:scaleX(1.197)">p</span><span style="left:137.94px;transform:scaleX(1.356)">i</span><span style="left:142.35px;transform:scaleX(1.082)">a</span><span style="left:153.74px;transform:scaleX(1.138)">-</span><span style="left:158.89px;transform:scaleX(1.133)">T</span><span style="left:170.11px;transform:scaleX(1.190)">u</span><span style="left:182.75px;transform:scaleX(1.230)">m</span><span style="left:200.85px;transform:scaleX(1.208)">w</span><span style="left:215.99px;transform:scaleX(1.058)">a</span><span style="left:227.59px;transform:scaleX(1.322)">t</span><span style="left:233.84px;transform:scaleX(1.157)">e</span><span style="left:245.03px;transform:scaleX(1.178)">r</span><span style="left:250.79px;transform:scaleX(1.278)">,</span><span style="left:260.48px;transform:scaleX(1.181)">W</span><span style="left:279.42px;transform:scaleX(1.182)">A</span></div>
<div class="a d" style="top:823px"><span style="left:566.28px;transform:scaleX(1.075)">-</span><span style="left:571.81px;transform:scaleX(0.584)">1</span><span style="left:579.28px;transform:scaleX(1.059)">6</span><span style="left:589.77px;transform:scaleX(1.037)">.</span><span style="left:593.41px;transform:scaleX(1.062)">7</span><span style="left:604.02px">%</span></div>
<div class="a d" style="top:823px"><span style="left:756.97px;transform:scaleX(0.596)">1</span><span style="left:763.89px;transform:scaleX(1.115)">3</span><span style="left:773.87px;transform:scaleX(1.104)">.</span><span style="left:783.22px;transform:scaleX(1.131)">K</span><span style="left:796.18px;transform:scaleX(1.156)">n</span><span style="left:808.00px;transform:scaleX(1.126)">o</span><span style="left:818.95px;transform:scaleX(1.111)">x</span><span style="left:828.21px;transform:scaleX(1.144)">v</span><span style="left:837.93px;transform:scaleX(1.299)">i</span><span style="left:842.86px;transform:scaleX(1.264)">l</span><span style="left:847.86px;transform:scaleX(1.264)">l</span><span style="left:852.54px;transform:scaleX(1.099)">e</span><span style="left:862.74px;transform:scaleX(1.103)">,</span><span style="left:871.08px;transform:scaleX(1.097)">T</span><span style="left:882.20px;transform:scaleX(1.128)">N</span></div>
<div class="a d" style="top:823px"><span style="left:1312.26px;transform:scaleX(1.084)">-</span><span style="left:1317.81px;transform:scaleX(0.584)">1</span><span style="left:1325.56px;transform:scaleX(1.090)">0</span><span style="left:1336.02px;transform:scaleX(1.045)">.</span><span style="left:1340.97px;transform:scaleX(1.069)">9</span><span style="left:1350.96px;transform:scaleX(1.006)">%</span></div>
<div class="a d" style="top:865px"><span style="left:50.97px;transform:scaleX(0.596)">1</span><span style="left:58.72px;transform:scaleX(1.181)">4</span><span style="left:69.86px;transform:scaleX(1.109)">.</span><span style="left:79.24px;transform:scaleX(1.141)">D</span><span style="left:93.56px;transform:scaleX(1.056)">a</span><span style="left:104.84px;transform:scaleX(1.270)">l</span><span style="left:109.78px;transform:scaleX(1.282)">t</span><span style="left:116.70px;transform:scaleX(1.132)">o</span><span style="left:128.16px;transform:scaleX(1.161)">n</span><span style="left:138.87px;transform:scaleX(1.244)">,</span><span style="left:148.19px;transform:scaleX(1.075)">G</span><span style="left:162.24px;transform:scaleX(1.129)">A</span></div>
<div class="a d" style="top:865px"><span style="left:566.28px;transform:scaleX(1.075)">-</span><span style="left:571.81px;transform:scaleX(0.584)">1</span><span style="left:579.28px;transform:scaleX(1.059)">6</span><span style="left:589.77px;transform:scaleX(1.037)">.</span><span style="left:593.41px;transform:scaleX(1.062)">7</span><span style="left:604.02px">%</span></div>
<div class="a d" style="top:865px"><span style="left:756.97px;transform:scaleX(0.596)">1</span><span style="left:764.56px;transform:scaleX(1.214)">4</span><span style="left:775.79px;transform:scaleX(1.140)">.</span><span style="left:784.81px;transform:scaleX(1.137)">U</span><span style="left:799.28px;transform:scaleX(1.228)">r</span><span style="left:807.06px;transform:scaleX(1.196)">b</span><span style="left:818.27px;transform:scaleX(1.083)">a</span><span style="left:829.43px;transform:scaleX(1.221)">n</span><span style="left:845.96px;transform:scaleX(1.164)">H</span><span style="left:860.82px;transform:scaleX(1.162)">o</span><span style="left:872.38px;transform:scaleX(1.219)">n</span><span style="left:884.54px;transform:scaleX(1.163)">o</span><span style="left:895.77px;transform:scaleX(1.304)">l</span><span style="left:900.43px;transform:scaleX(1.219)">u</span><span style="left:912.77px;transform:scaleX(1.304)">l</span><span style="left:917.43px;transform:scaleX(1.219)">u</span><span style="left:928.77px;transform:scaleX(1.149)">,</span><span style="left:937.96px;transform:scaleX(1.164)">H</span><span style="left:952.78px;transform:scaleX(1.099)">I</span></div>
<div class="a d" style="top:865px"><span style="left:1312.30px;transform:scaleX(1.068)">-</span><span style="left:1317.81px;transform:scaleX(0.584)">1</span><span style="left:1325.64px;transform:scaleX(1.074)">0</span><span style="left:1336.06px;transform:scaleX(1.030)">.</span><span style="left:1340.32px;transform:scaleX(1.040)">3</span><span style="left:1350.61px;transform:scaleX(0.975)">%</span></div>
<div class="a d" style="top:907px"><span style="left:50.97px;transform:scaleX(0.596)">1</span><span style="left:57.84px;transform:scaleX(1.134)">5</span><span style="left:67.83px;transform:scaleX(1.124)">.</span><span style="left:77.07px;transform:scaleX(1.146)">M</span><span style="left:94.62px;transform:scaleX(1.146)">o</span><span style="left:105.95px;transform:scaleX(1.161)">r</span><span style="left:112.95px;transform:scaleX(1.161)">r</span><span style="left:119.88px;transform:scaleX(1.322)">i</span><span style="left:124.41px;transform:scaleX(1.099)">s</span><span style="left:133.74px;transform:scaleX(1.298)">t</span><span style="left:140.62px;transform:scaleX(1.146)">o</span><span style="left:151.79px;transform:scaleX(1.186)">w</span><span style="left:167.51px;transform:scaleX(1.204)">n</span><span style="left:178.69px;transform:scaleX(1.123)">,</span><span style="left:187.05px;transform:scaleX(1.121)">T</span><span style="left:198.63px;transform:scaleX(1.124)">N</span></div>
<div class="a d" style="top:907px"><span style="left:566.36px;transform:scaleX(1.048)">-</span><span style="left:571.81px;transform:scaleX(0.584)">1</span><span style="left:579.08px">5</span><span style="left:588.84px;transform:scaleX(1.011)">.</span><span style="left:593.28px;transform:scaleX(1.031)">9</span><span style="left:603.88px;transform:scaleX(0.956)">%</span></div>
<div class="a d" style="top:907px"><span style="left:756.97px;transform:scaleX(0.596)">1</span><span style="left:764.01px;transform:scaleX(1.101)">5</span><span style="left:773.91px;transform:scaleX(1.092)">.</span><span style="left:782.46px;transform:scaleX(1.032)">S</span><span style="left:793.65px;transform:scaleX(1.040)">a</span><span style="left:805.03px;transform:scaleX(1.235)">l</span><span style="left:809.81px;transform:scaleX(1.290)">i</span><span style="left:814.55px;transform:scaleX(1.068)">s</span><span style="left:823.78px;transform:scaleX(1.172)">b</span><span style="left:836.22px;transform:scaleX(1.140)">u</span><span style="left:848.06px;transform:scaleX(1.128)">r</span><span style="left:854.53px;transform:scaleX(1.137)">y</span><span style="left:862.92px;transform:scaleX(1.224)">,</span><span style="left:873.03px;transform:scaleX(1.112)">M</span><span style="left:890.23px;transform:scaleX(1.120)">D</span><span style="left:904.89px;transform:scaleX(1.090)">-</span><span style="left:912.23px;transform:scaleX(1.120)">D</span><span style="left:926.44px;transform:scaleX(1.030)">E</span></div>
<div class="a d" style="top:907px"><span style="left:1312.13px;transform:scaleX(1.126)">-</span><span style="left:1318.89px;transform:scaleX(1.108)">9</span><span style="left:1328.92px;transform:scaleX(1.086)">.</span><span style="left:1333.03px;transform:scaleX(1.095)">5</span><span style="left:1342.64px;transform:scaleX(1.045)">%</span></div>
<div class="a f" style="top:982px"><span style="left:43.85px;transform:scaleX(1.127)">*</span><span style="left:51.33px;transform:scaleX(1.110)">P</span><span style="left:64.65px;transform:scaleX(1.139)">e</span><span style="left:76.38px;transform:scaleX(1.169)">r</span><span style="left:83.74px;transform:scaleX(1.148)">c</span><span style="left:94.05px;transform:scaleX(1.152)">e</span><span style="left:106.12px;transform:scaleX(1.160)">n</span><span style="left:118.94px;transform:scaleX(1.224)">t</span><span style="left:126.47px;transform:scaleX(1.199)">a</span><span style="left:138.56px;transform:scaleX(1.189)">g</span><span style="left:151.65px;transform:scaleX(1.139)">e</span><span style="left:168.06px;transform:scaleX(1.151)">c</span><span style="left:179.13px;transform:scaleX(1.160)">h</span><span style="left:192.31px;transform:scaleX(1.202)">a</span><span style="left:204.94px;transform:scaleX(1.163)">n</span><span style="left:217.35px;transform:scaleX(1.176)">g</span><span style="left:230.43px;transform:scaleX(1.139)">e</span><span style="left:247.20px;transform:scaleX(1.145)">i</span><span style="left:252.29px;transform:scaleX(1.162)">n</span><span style="left:270.70px;transform:scaleX(1.187)">m</span><span style="left:289.94px;transform:scaleX(1.154)">e</span><span style="left:301.66px;transform:scaleX(1.166)">d</span><span style="left:314.77px;transform:scaleX(1.121)">i</span><span style="left:319.98px;transform:scaleX(1.190)">a</span><span style="left:332.94px;transform:scaleX(1.163)">n</span><span style="left:350.07px;transform:scaleX(1.144)">A</span><span style="left:363.42px;transform:scaleX(1.134)">Q</span><span style="left:379.85px;transform:scaleX(1.130)">I</span><span style="left:390.41px;transform:scaleX(1.041)">(</span><span style="left:396.17px;transform:scaleX(1.119)">2</span><span style="left:407.70px;transform:scaleX(1.156)">0</span><span style="left:421.31px;transform:scaleX(0.591)">1</span><span style="left:426.76px;transform:scaleX(1.140)">9</span><span style="left:438.25px;transform:scaleX(1.196)">-</span><span style="left:445.17px;transform:scaleX(1.119)">2</span><span style="left:456.70px;transform:scaleX(1.156)">0</span><span style="left:468.36px;transform:scaleX(1.120)">2</span><span style="left:479.96px;transform:scaleX(1.167)">0</span><span style="left:493.34px;transform:scaleX(1.039)">)</span></div>
</body></html>
